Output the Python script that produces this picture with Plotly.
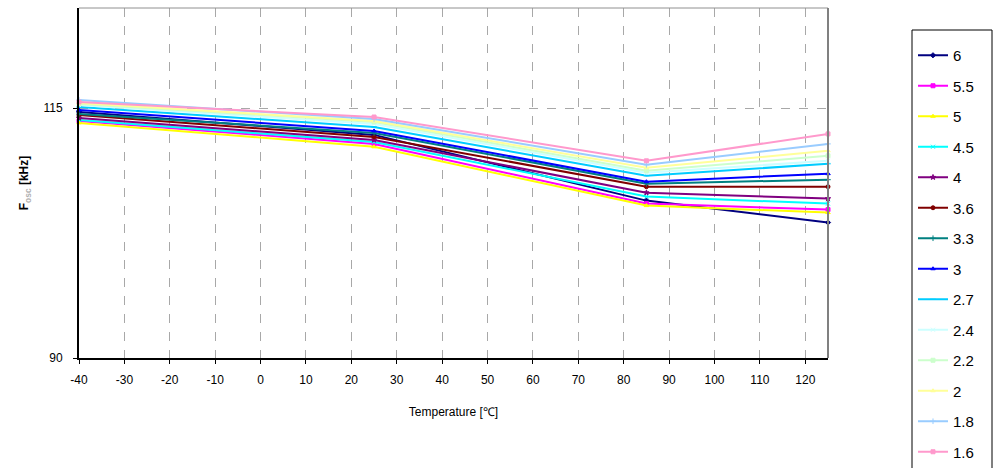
import plotly.graph_objects as go

temperature = [-40, 25, 85, 125]
series_names = ["6", "5.5", "5", "4.5", "4", "3.6", "3.3", "3", "2.7", "2.4", "2.2", "2", "1.8", "1.6"]
values = {
    "6":   [114.60, 112.31, 105.74, 103.55],
    "5.5": [113.71, 111.41, 105.44, 104.84],
    "5":   [113.51, 111.12, 105.24, 104.54],
    "4.5": [113.80, 111.61, 106.14, 105.44],
    "4":   [114.00, 111.81, 106.53, 105.94],
    "3.6": [114.30, 112.11, 107.13, 107.13],
    "3.3": [114.40, 112.51, 107.43, 107.83],
    "3":   [114.80, 112.71, 107.63, 108.43],
    "2.7": [115.10, 113.11, 108.23, 109.42],
    "2.4": [115.30, 113.41, 108.53, 109.72],
    "2.2": [115.40, 113.61, 108.72, 110.22],
    "2":   [115.50, 113.70, 109.02, 110.72],
    "1.8": [115.80, 113.90, 109.32, 111.41],
    "1.6": [115.60, 114.10, 109.72, 112.41],
}
colors = {
    "6": "#000080", "5.5": "#FF00FF", "5": "#FFFF00", "4.5": "#00FFFF",
    "4": "#800080", "3.6": "#800000", "3.3": "#008080", "3": "#0000FF",
    "2.7": "#00CCFF", "2.4": "#CCFFFF", "2.2": "#CCFFCC", "2": "#FFFF99",
    "1.8": "#99CCFF", "1.6": "#FF99CC",
}
symbols = {
    "6": "diamond", "5.5": "square", "5": "triangle-up", "4.5": "x-thin",
    "4": "star", "3.6": "circle", "3.3": "cross-thin", "3": "triangle-up",
    "2.7": "line-ew", "2.4": "x-thin", "2.2": "square", "2": "triangle-up",
    "1.8": "cross-thin", "1.6": "square",
}
x_ticks = list(range(-40, 121, 10))
y_ticks = [90, 115]

fig = go.Figure()
for name in series_names:
    fig.add_trace(go.Scatter(
        x=temperature, y=values[name], name=name, legendgroup=name,
        mode="lines+markers", cliponaxis=False,
        line=dict(color=colors[name], width=2),
        marker=dict(symbol=symbols[name], size=4, color=colors[name],
                    line=dict(color=colors[name], width=1)),
    ))

font = "Liberation Sans, Arial, sans-serif"
H = 540
plot_top, plot_bottom, plot_left, plot_right = 8, 358, 79, 828
pw = plot_right - plot_left
ph = plot_bottom - plot_top

def px_x(p):
    return (p - plot_left) / pw

def px_y(p):
    return (plot_bottom - p) / ph

fig.update_layout(
    width=997, height=H,
    margin=dict(l=plot_left, r=997 - plot_right, t=plot_top, b=H - plot_bottom),
    paper_bgcolor="white", plot_bgcolor="white",
    font=dict(family=font, size=12, color="black"),
    showlegend=True,
    legend=dict(
        x=px_x(913), xanchor="left", y=px_y(39), yanchor="top",
        borderwidth=0, bgcolor="rgba(0,0,0,0)",
        font=dict(family=font, size=15, color="black"),
        tracegroupgap=8, itemwidth=30, maxheight=1000,
    ),
    xaxis=dict(
        range=[-40, 125], tickvals=x_ticks, ticktext=[str(t) for t in x_ticks],
        showgrid=True, gridcolor="#A8A8A8", griddash="dash", gridwidth=1,
        showline=True, linecolor="black", linewidth=2,
        ticks="outside", ticklen=4, tickcolor="black",
        zeroline=False, ticklabelstandoff=6,
        title=dict(text="Temperature [℃]", font=dict(size=12), standoff=21),
        tickfont=dict(size=12),
    ),
    yaxis=dict(
        range=[90, 125], tickvals=y_ticks,
        showgrid=True, gridcolor="#A8A8A8", griddash="dash", gridwidth=1,
        showline=True, linecolor="black", linewidth=2,
        ticks="outside", ticklen=4, tickcolor="black",
        zeroline=False, ticklabelstandoff=8,
        title=dict(text="<b>F<sub><span style='color:#B0B0B0'>osc</span></sub> [kHz]</b>",
                   font=dict(size=12), standoff=12),
        tickfont=dict(size=12),
    ),
    shapes=[
        dict(type="line", xref="paper", yref="paper", x0=0, x1=1, y0=1, y1=1,
             line=dict(color="#909090", width=1)),
        dict(type="line", xref="paper", yref="paper", x0=1, x1=1, y0=0, y1=1,
             line=dict(color="#808080", width=2)),
        dict(type="rect", xref="paper", yref="paper",
             x0=px_x(912), x1=px_x(992), y0=px_y(30), y1=px_y(520),
             line=dict(color="black", width=1), fillcolor="rgba(0,0,0,0)", layer="below"),
    ],
)

fig.write_html(
    "out.html",
    config={"displayModeBar": False},
    post_script="document.body.style.margin='0';document.body.style.overflow='hidden';",
)
